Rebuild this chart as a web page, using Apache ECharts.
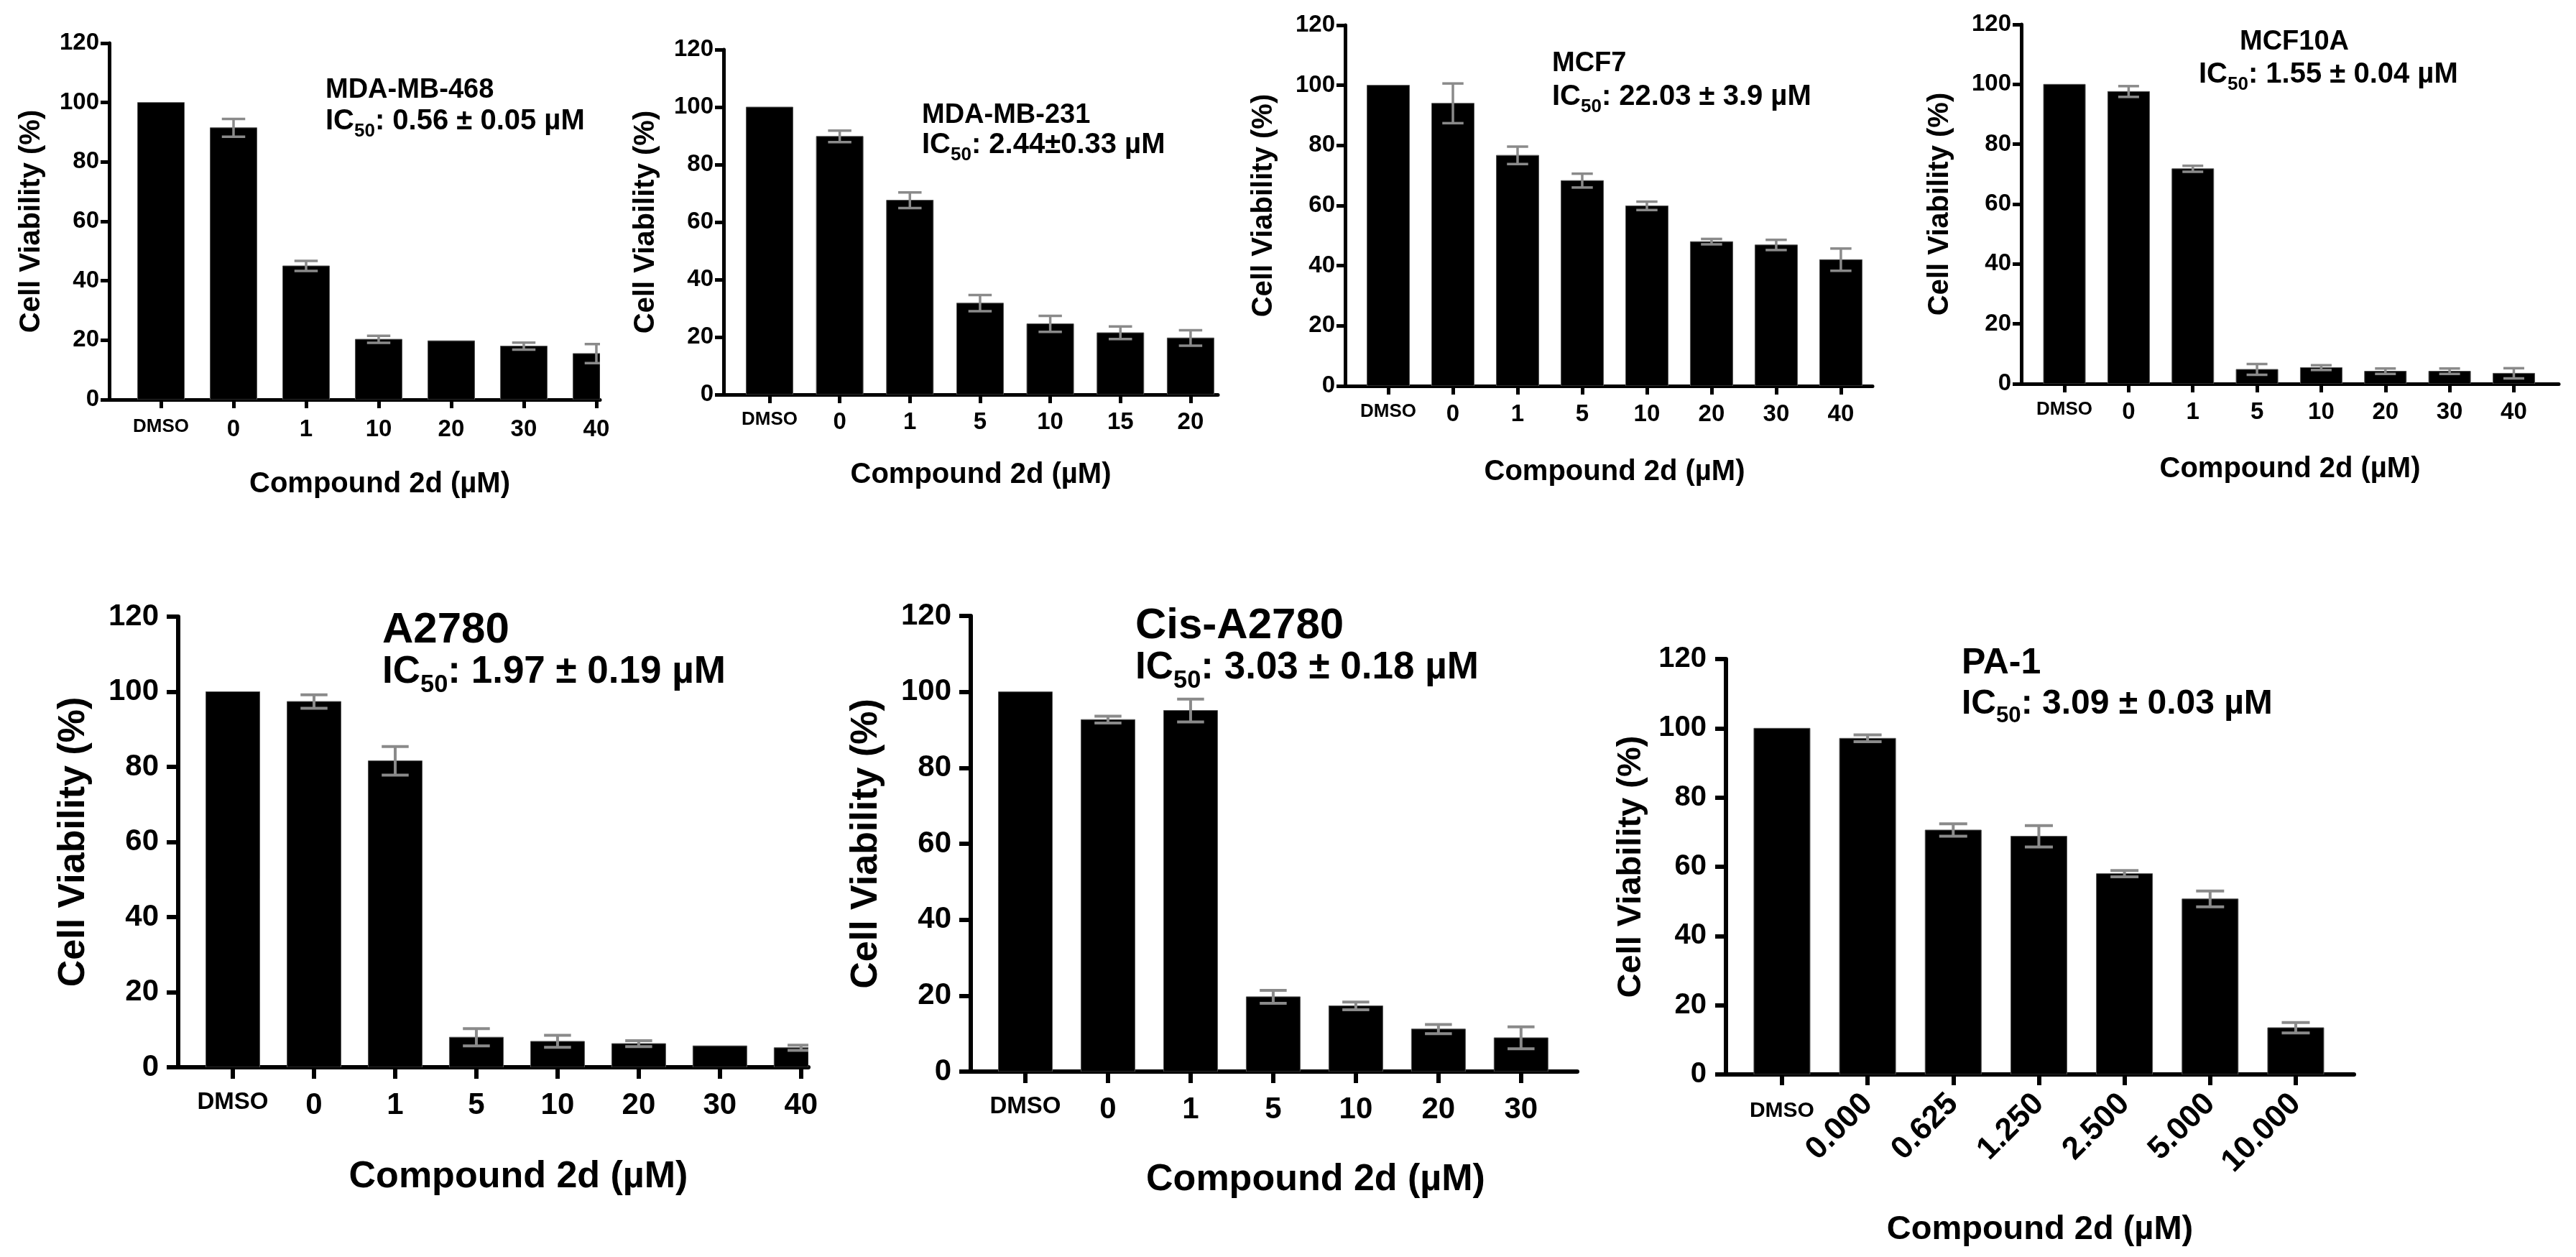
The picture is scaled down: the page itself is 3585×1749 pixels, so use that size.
<!DOCTYPE html>
<html>
<head>
<meta charset="utf-8">
<title>Cell viability - Compound 2d</title>
<script src="https://cdn.jsdelivr.net/npm/echarts@6.0.0/dist/echarts.min.js"></script>
<style>
  html, body { margin: 0; padding: 0; background: #fff; }
  #main { width: 3585px; height: 1749px; }
</style>
</head>
<body>
<div id="main"></div>
<script>
// values: mean viability (%) and error bar half-length
var cats468 = ['DMSO', '0', '1', '10', '20', '30', '40'];
var vals468 = [100, 91.5, 45, 20.3, 19.8, 18, 15.5];
var errs468 = [0, 3, 1.7, 1.2, 0, 1.2, 3.2];

var cats231 = ['DMSO', '0', '1', '5', '10', '15', '20'];
var vals231 = [100, 89.8, 67.6, 31.8, 24.6, 21.5, 19.7];
var errs231 = [0, 2, 2.7, 2.8, 2.8, 2.2, 2.7];

var catsMcf7 = ['DMSO', '0', '1', '5', '10', '20', '30', '40'];
var valsMcf7 = [100, 94, 76.7, 68.3, 59.9, 48, 46.9, 42];
var errsMcf7 = [0, 6.6, 2.9, 2.3, 1.4, 0.9, 1.7, 3.7];

var catsMcf10a = ['DMSO', '0', '1', '5', '10', '20', '30', '40'];
var valsMcf10a = [100, 97.6, 71.8, 4.8, 5.4, 4.2, 4.2, 3.5];
var errsMcf10a = [0, 1.8, 1, 1.8, 0.8, 0.9, 0.9, 1.7];

var catsA2780 = ['DMSO', '0', '1', '5', '10', '20', '30', '40'];
var valsA2780 = [100, 97.4, 81.6, 8.0, 6.9, 6.3, 5.7, 5.2];
var errsA2780 = [0, 1.8, 3.8, 2.3, 1.6, 0.8, 0, 0.7];

var catsCis = ['DMSO', '0', '1', '5', '10', '20', '30'];
var valsCis = [100, 92.7, 95.1, 19.7, 17.3, 11.2, 8.9];
var errsCis = [0, 0.9, 3, 1.7, 1, 1.2, 2.9];

var catsPa1 = ['DMSO', '0.000', '0.625', '1.250', '2.500', '5.000', '10.000'];
var valsPa1 = [100, 97.1, 70.6, 68.8, 58.0, 50.7, 13.5];
var errsPa1 = [0, 1, 1.8, 3.1, 0.9, 2.3, 1.5];

var yTicks = {min: 0, max: 120, interval: 20};

var FONT = "'Liberation Sans', Arial, sans-serif";

// text / line sizes for the small top row and the larger bottom row
var small = {tick: 33, cat: 33, dmso: 26, axisName: 40, title: 38, ic: 40, line: 5, tickLen: 12, errW: 3.5, yMargin: 14};
var large = {tick: 42, cat: 42, dmso: 33, axisName: 52, title: 60, ic: 53, line: 6, tickLen: 16, errW: 4, yMargin: 27};
var pa = {tick: 40, cat: 44, dmso: 30, axisName: 47, title: 50, ic: 48, line: 6, tickLen: 15, errW: 4, yMargin: 27};

var panels = [
  {cats: cats468, vals: vals468, errs: errs468, st: small,
   name: 'MDA-MB-468', ic: '0.56 ± 0.05 µM', nameAt: [448, 121], icAt: [448, 167],
   box: [152, 60, 683, 496], xMin: -0.713, xMax: 6.05, barW: 65,
   xMargin: 25, xNameGap: 98, xNameDx: 35, yNameGap: 88},
  {cats: cats231, vals: vals231, errs: errs231, st: small,
   name: 'MDA-MB-231', ic: '2.44±0.33 µM', nameAt: [1278, 156], icAt: [1278, 200],
   box: [1007, 69, 688, 480], xMin: -0.655, xMax: 6.39, barW: 65,
   xMargin: 22, xNameGap: 92, xNameDx: 14, yNameGap: 88},
  {cats: catsMcf7, vals: valsMcf7, errs: errsMcf7, st: small,
   name: 'MCF7', ic: '22.03 ± 3.9 µM', nameAt: [2155, 84], icAt: [2155, 133],
   box: [1872, 35, 734, 502], xMin: -0.667, xMax: 7.49, barW: 59,
   xMargin: 23, xNameGap: 100, xNameDx: 8, yNameGap: 93},
  {cats: catsMcf10a, vals: valsMcf10a, errs: errsMcf10a, st: small,
   name: 'MCF10A', ic: '1.55 ± 0.04 µM', nameAt: [3112, 54], icAt: [3055, 102],
   box: [2813, 34, 748, 500], xMin: -0.672, xMax: 7.70, barW: 58,
   xMargin: 23, xNameGap: 99, xNameDx: 0, yNameGap: 93},
  {cats: catsA2780, vals: valsA2780, errs: errsA2780, st: large,
   name: 'A2780', ic: '1.97 ± 0.19 µM', nameAt: [527, 872], icAt: [527, 934],
   box: [248, 858, 877, 627], xMin: -0.673, xMax: 7.09, barW: 75,
   xMargin: 32, xNameGap: 127, xNameDx: 35, yNameGap: 119},
  {cats: catsCis, vals: valsCis, errs: errsCis, st: large,
   name: 'Cis-A2780', ic: '3.03 ± 0.18 µM', nameAt: [1575, 866], icAt: [1575, 928],
   box: [1351, 857, 844, 634], xMin: -0.661, xMax: 6.68, barW: 75,
   xMargin: 32, xNameGap: 125, xNameDx: 58, yNameGap: 119},
  {cats: catsPa1, vals: valsPa1, errs: errsPa1, st: pa, rotated: true,
   name: 'PA-1', ic: '3.09 ± 0.03 µM', nameAt: [2725, 918], icAt: [2725, 978],
   box: [2402, 917, 874, 578], xMin: -0.654, xMax: 6.68, barW: 78,
   xMargin: 36, xNameGap: 193, xNameDx: 0, yNameGap: 108}
];

// bars drawn as clipped rects so the last bar is cut at the axis end, as in the figure
function bars(barW) {
  return function (params, api) {
    var x = api.value(0), v = api.value(1);
    var top = api.coord([x, v]);
    var base = api.coord([x, 0]);
    var cs = params.coordSys;
    var rect = echarts.graphic.clipRectByRect(
      {x: top[0] - barW / 2, y: top[1], width: barW, height: base[1] - top[1]},
      {x: cs.x, y: cs.y, width: cs.width, height: cs.height}
    );
    if (!rect) return null;
    return {type: 'rect', shape: rect, style: {fill: '#000', stroke: '#555', lineWidth: 1}};
  };
}

function errorBars(capW, lw) {
  return function (params, api) {
    var x = api.value(0), v = api.value(1), e = api.value(2);
    if (!e) return null;
    var hi = api.coord([x, v + e]);
    var lo = api.coord([x, v - e]);
    var st = {stroke: '#8a8a8a', lineWidth: lw};
    return {
      type: 'group',
      children: [
        {type: 'line', shape: {x1: hi[0], y1: hi[1], x2: lo[0], y2: lo[1]}, style: st},
        {type: 'line', shape: {x1: hi[0] - capW / 2, y1: hi[1], x2: hi[0] + capW / 2, y2: hi[1]}, style: st},
        {type: 'line', shape: {x1: lo[0] - capW / 2, y1: lo[1], x2: lo[0] + capW / 2, y2: lo[1]}, style: st}
      ]
    };
  };
}

var grids = [], xAxes = [], yAxes = [], series = [], titles = [];

panels.forEach(function (p, i) {
  var st = p.st;
  var idx = p.cats.map(function (c, k) { return k; });
  var lineStyle = {color: '#000', width: st.line};
  var labelFmt = function (val) {
    var c = p.cats[Math.round(val)];
    return c === 'DMSO' ? '{d|DMSO}' : c;
  };
  var labelRich = {d: {fontSize: st.dmso, fontWeight: 'bold', color: '#000', fontFamily: FONT}};

  grids.push({left: p.box[0], top: p.box[1], width: p.box[2], height: p.box[3]});

  var mainX = xAxes.length;
  xAxes.push({
    type: 'value', gridIndex: i, min: p.xMin, max: p.xMax, position: 'bottom',
    splitLine: {show: false},
    axisLine: {show: true, onZero: false, lineStyle: lineStyle},
    axisTick: {show: true, customValues: idx, length: st.tickLen, lineStyle: lineStyle},
    axisLabel: {
      customValues: p.rotated ? [0] : idx,
      formatter: labelFmt, rich: labelRich,
      margin: p.xMargin, fontSize: st.cat, fontWeight: 'bold', color: '#000'
    },
    name: 'Compound 2d (µM)', nameLocation: 'middle', nameGap: p.xNameGap,
    nameTextStyle: {fontSize: st.axisName, fontWeight: 'bold', color: '#000',
                    padding: [0, 0, 0, 2 * p.xNameDx]}
  });

  if (p.rotated) {
    // PA-1: the concentration labels are slanted, DMSO stays flat
    xAxes.push({
      type: 'value', gridIndex: i, min: p.xMin, max: p.xMax, position: 'bottom',
      splitLine: {show: false}, axisLine: {show: false, onZero: false}, axisTick: {show: false},
      axisLabel: {
        customValues: idx.slice(1), formatter: labelFmt, rotate: 45,
        margin: 34, fontSize: st.cat, fontWeight: 'bold', color: '#000'
      }
    });
  }

  yAxes.push({
    type: 'value', gridIndex: i, min: yTicks.min, max: yTicks.max, interval: yTicks.interval,
    position: 'left',
    splitLine: {show: false},
    axisLine: {show: true, onZero: false, lineStyle: lineStyle},
    axisTick: {show: true, length: st.tickLen, lineStyle: lineStyle},
    axisLabel: {fontSize: st.tick, fontWeight: 'bold', color: '#000', margin: st.yMargin},
    name: 'Cell Viability (%)', nameLocation: 'middle', nameGap: p.yNameGap,
    nameTextStyle: {fontSize: st.axisName, fontWeight: 'bold', color: '#000'}
  });

  series.push({
    name: p.name, type: 'custom', xAxisIndex: mainX, yAxisIndex: i, clip: true, silent: true, z: 2,
    renderItem: bars(p.barW),
    encode: {x: 0, y: 1},
    data: p.vals.map(function (v, k) { return [k, v]; })
  });

  series.push({
    name: p.name + ' error', type: 'custom', xAxisIndex: mainX, yAxisIndex: i, clip: true, silent: true, z: 5,
    renderItem: errorBars(p.barW / 2, st.errW),
    encode: {x: 0, y: 1},
    data: p.vals.map(function (v, k) { return [k, v, p.errs[k]]; })
  });

  titles.push({
    left: p.nameAt[0], top: p.nameAt[1] - st.title * 0.6,
    text: p.name,
    textStyle: {fontSize: st.title, lineHeight: st.title * 1.2, fontWeight: 'bold', color: '#000', fontFamily: FONT}
  });

  var f = st.ic;
  titles.push({
    left: p.icAt[0], top: p.icAt[1] - f * 0.675,
    text: '{a|IC}{b|50}{a|: ' + p.ic + '}',
    textStyle: {
      rich: {
        a: {fontSize: f, lineHeight: f * 1.2, fontWeight: 'bold', color: '#000', fontFamily: FONT},
        b: {fontSize: f * 0.65, lineHeight: f * 0.65, padding: [f * 0.7, 0, 0, 0],
            fontWeight: 'bold', color: '#000', fontFamily: FONT}
      }
    }
  });
});

var chart = echarts.init(document.getElementById('main'));
chart.setOption({
  animation: false,
  backgroundColor: '#fff',
  textStyle: {fontFamily: FONT},
  title: titles,
  grid: grids,
  xAxis: xAxes,
  yAxis: yAxes,
  series: series
});
</script>
</body>
</html>
